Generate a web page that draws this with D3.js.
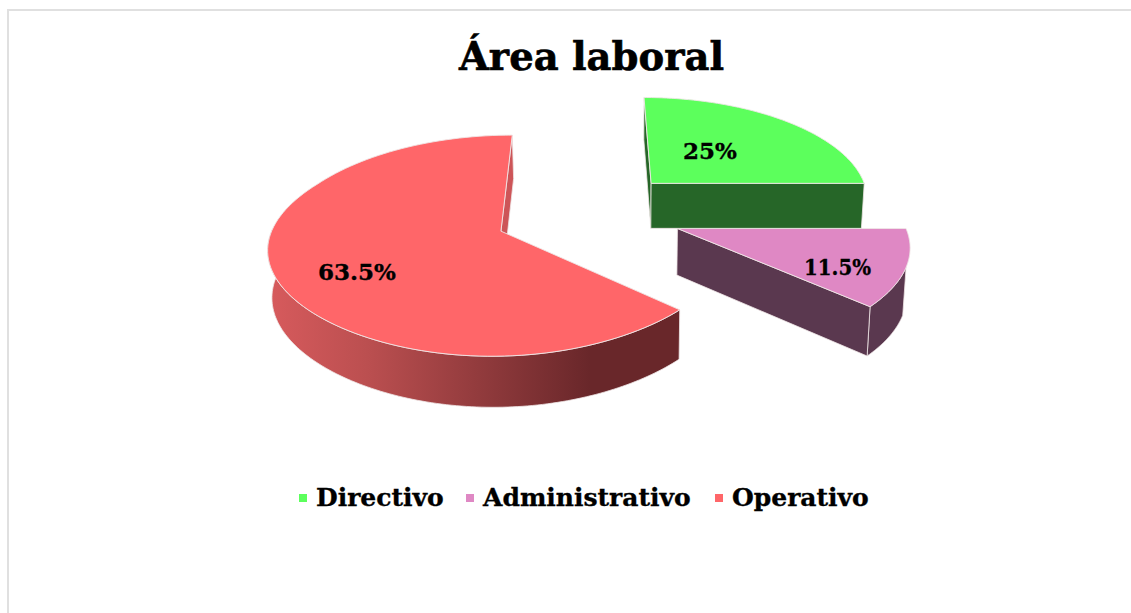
<!DOCTYPE html>
<html><head><meta charset="utf-8">
<script src="https://cdnjs.cloudflare.com/ajax/libs/d3/7.8.5/d3.min.js"></script>
<style>html,body{margin:0;padding:0;background:#fff;overflow:hidden}svg{display:block}
text{font-family:"DejaVu Serif",serif;font-weight:700;fill:#000;stroke:#000;stroke-width:.35px}</style>
</head><body><svg id="c" width="1131" height="613"></svg>
<script>
const title = "Área laboral";
const categories = ["Directivo","Administrativo","Operativo"];
const values = [25,11.5,63.5];
const labels = ["25%","11.5%","63.5%"];
const topColors = ["#5cff5c","#df88c4","#ff6669"];
const wallColors = ["#266628","#5a384f","#cd5558"];

const svg = d3.select("#c");
// frame
svg.append("path").attr("d","M8,613V10H1131").attr("fill","none").attr("stroke","#e0e0e0").attr("stroke-width",2);

// perspective model of the exploded pie
const VX=588.2, VY=-596.6, H=6306, U0=7.79, EXPLODE=0.4175;
const widthAt = sy => { const d=sy-183; return d<0 ? 213+0.28*d : 213+0.38*d-0.000843*d*d; };
function proj(X,Y){ const sy=VY+H/(U0+Y); return [VX+X*widthAt(sy), sy]; }
function drop(p){ // same point on the lower face
  const d=45+0.035*(p[1]-183);
  return [p[0]+0.012*(626-p[0]), p[1]+d];
}
const pie = d3.pie().sort(null).value(d=>d).startAngle(0).endAngle(2*Math.PI);
const arcs = pie(values);
const lineGen = d3.line();

const defs = svg.append("defs");
const grad = defs.append("linearGradient").attr("id","redWall").attr("gradientUnits","userSpaceOnUse")
  .attr("x1",272).attr("x2",590).attr("y1",0).attr("y2",0);
grad.append("stop").attr("offset",0).attr("stop-color","#d65a5c");
grad.append("stop").attr("offset",0.3).attr("stop-color","#bb4f50");
grad.append("stop").attr("offset",1).attr("stop-color","#69272a");

function geom(a){
  const mid=(a.startAngle+a.endAngle)/2;
  const ox=EXPLODE*Math.sin(mid), oy=EXPLODE*Math.cos(mid);
  const at=t=>proj(ox+Math.sin(t),oy+Math.cos(t));
  return {apex:proj(ox,oy), at};
}
function rim(g,t0,t1){ return d3.range(0,121).map(i=>g.at(t0+(t1-t0)*i/120)); }
const EDGE="#efe6e6";
function wall(pts,fill){
  const q=pts.concat(pts.map(drop).reverse());
  svg.append("path").attr("d",lineGen(q)+"Z").attr("fill",fill).attr("stroke",EDGE).attr("stroke-width",0.8).attr("stroke-linejoin","round");
}
function drawTop(a,g,i){
  const pts=[g.apex].concat(rim(g,a.startAngle,a.endAngle));
  svg.append("path").attr("d",lineGen(pts)+"Z").attr("fill",topColors[i]).attr("stroke",EDGE).attr("stroke-width",0.9).attr("stroke-linejoin","round");
}
const gs=arcs.map(geom);
// Operativo
wall([gs[2].apex, gs[2].at(arcs[2].endAngle)], wallColors[2]);
wall(rim(gs[2],arcs[2].startAngle,3*Math.PI/2+0.02), "url(#redWall)");
drawTop(arcs[2],gs[2],2);
// Administrativo
wall(rim(gs[1],Math.PI/2+0.35,arcs[1].endAngle), wallColors[1]);
wall([gs[1].apex, gs[1].at(arcs[1].endAngle)], wallColors[1]);
drawTop(arcs[1],gs[1],1);
// Directivo
wall([gs[0].apex, gs[0].at(arcs[0].startAngle)], wallColors[0]);
wall([gs[0].apex, gs[0].at(arcs[0].endAngle)], wallColors[0]);
drawTop(arcs[0],gs[0],0);

// texts
svg.append("text").attr("x",591.5).attr("y",70).attr("text-anchor","middle").attr("font-size",38.5).style("stroke-width","0.6px").text(title);
const labelPos=[[710,159],[837.5,275],[357,280]];
labels.forEach((t,i)=>{
  const n=svg.append("text").attr("x",labelPos[i][0]).attr("y",labelPos[i][1]).attr("text-anchor","middle").attr("font-size",23).text(t);
  if(t==="11.5%") n.attr("textLength",67).attr("lengthAdjust","spacingAndGlyphs");
});
const legendX=[299,466,715], legendTextX=[316,483,732];
categories.forEach((c,i)=>{
  svg.append("rect").attr("x",legendX[i]).attr("y",494).attr("width",8).attr("height",8).attr("fill",topColors[i]);
  svg.append("text").attr("x",legendTextX[i]).attr("y",506).attr("font-size",25).text(c);
});
</script></body></html>
